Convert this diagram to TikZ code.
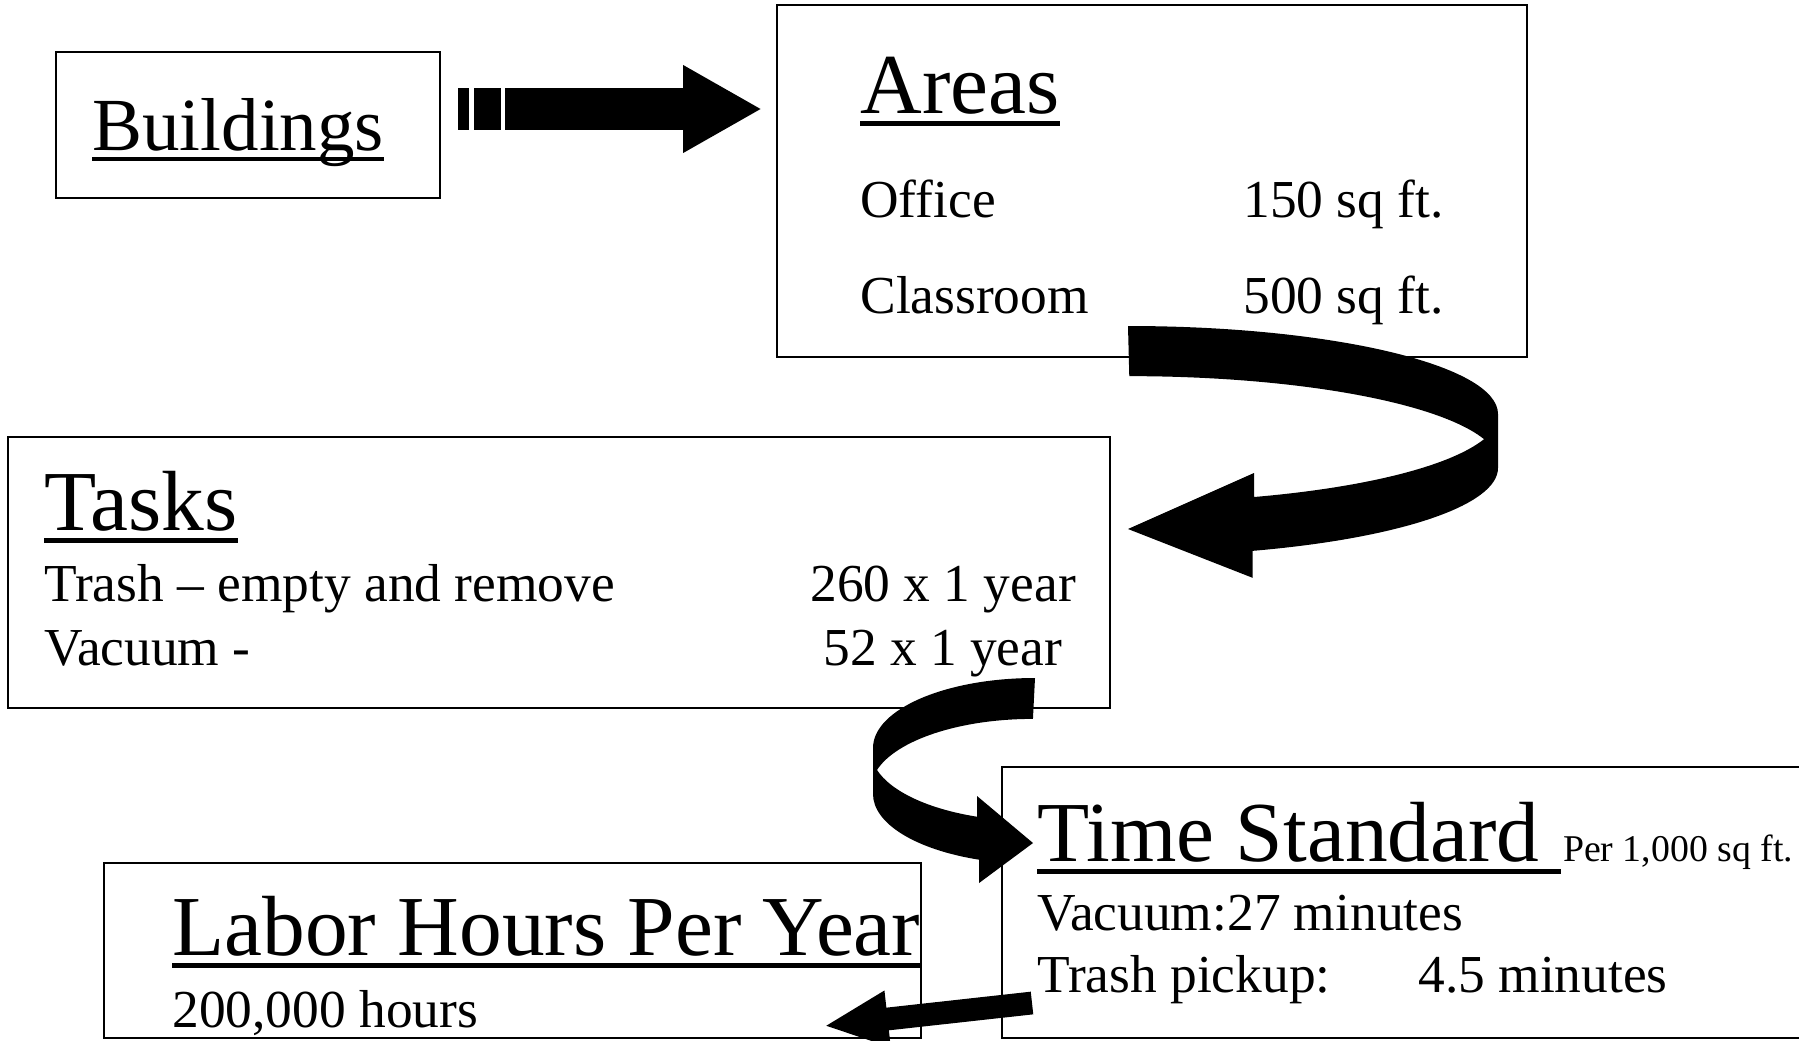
\documentclass[tikz,border=0pt]{standalone}
\usepackage{fontspec}
\setmainfont{Liberation Serif}
\usetikzlibrary{arrows.meta}

\newcommand{\ulhead}[1]{\setbox0=\hbox{#1}\rlap{\rule[-0.15em]{\wd0}{0.06em}}\box0}

\begin{document}
\begin{tikzpicture}[x=0.5pt,y=0.5pt,
  box/.style={draw,line width=1pt,inner sep=0pt},
  head/.style={anchor=base west,inner sep=0pt,font=\fontsize{42.7}{50}\selectfont},
  txt/.style={anchor=base west,inner sep=0pt,font=\fontsize{26.7}{31}\selectfont},
  note/.style={anchor=base west,inner sep=0pt,font=\fontsize{18.9}{22}\selectfont},
  striped/.style={line width=21pt,dash pattern=on 5.5pt off 2.5pt on 13.5pt off 2pt on 400pt off 0pt,
    -{Triangle[length=39.5pt 0 0,width=41pt 0 0]}},
  slim/.style={line width=11.4pt,-{Triangle[length=32pt 0 0,width=26pt 0 0]}}]

\path[use as bounding box,fill=white](0,0)rectangle(1799,-1040);
\clip(0,0)rectangle(1799,-1040);

\node[box,minimum width=192pt,minimum height=73pt](bld) at (248,-125){};
\node[box,minimum width=375pt,minimum height=176pt](areas) at (1152,-181){};
\node[box,minimum width=551pt,minimum height=135.5pt](tasks) at (559,-572.5){};
\node[box,minimum width=404pt,minimum height=135.5pt](tsd) at (1406,-902.5){};
\node[box,minimum width=408.5pt,minimum height=87.5pt](labor) at (512.5,-950.5){};

\node[head,font=\fontsize{37.5}{44}\selectfont](bldtitle) at (92,-150){\ulhead{Buildings}};

\node[head](areatitle) at (860,-113){\ulhead{Areas}};
\node[txt](office) at (860,-217){Office};
\node[txt](officesz) at (1243,-217){150 sq ft.};
\node[txt](classrm) at (860,-313){Classroom};
\node[txt](classsz) at (1243,-313){500 sq ft.};

\node[head](tasktitle) at (44,-530){\ulhead{Tasks}};
\node[txt](trash) at (44,-601){Trash -- empty and remove};
\node[txt](trashfreq) at (810,-601){260 x 1 year};
\node[txt](vacuum) at (44,-665){Vacuum -};
\node[txt](vacfreq) at (823,-665){52 x 1 year};

\node[head](tstitle) at (1037,-861){\ulhead{Time Standard\ }};
\node[note](tsunit) at ([xshift=0.7pt]tstitle.base east){Per 1,000 sq ft.};
\node[txt](tsvac) at (1037,-930){Vacuum:27 minutes};
\node[txt](tspick) at (1037,-992){Trash pickup:};
\node[txt](tsmin) at (1418,-992){4.5 minutes};

\node[head](labtitle) at (172,-955){\ulhead{Labor Hours Per Year}};
\node[txt](labhours) at (172,-1027){200,000 hours};

\draw[striped]([shift={(8.5pt,8pt)}]bld.east)--([shift={(-7pt,36pt)}]areas.west);

\fill([shift={(-12pt,16pt)}]areas.south)
  arc[start angle=90,end angle=0,x radius=185pt,y radius=44pt]
  --++(0,-27pt)
  arc[start angle=0,end angle=-70.3,x radius=185pt,y radius=44pt]
  --++(0,-13.5pt)
  --([shift={(8.5pt,21.75pt)}]tasks.east)
  --++(63pt,28pt)
  --++(0,-12pt)
  arc[start angle=-70.3,end angle=-16.5,x radius=185pt,y radius=44pt]
  arc[start angle=16.5,end angle=90,x radius=185pt,y radius=44pt]
  --cycle;

\fill([shift={(-38pt,15.5pt)}]tasks.south east)
  arc[start angle=90,end angle=180,x radius=81pt,y radius=35pt]
  --++(0,-23pt)
  arc[start angle=180,end angle=249.8,x radius=81pt,y radius=35pt]
  --++(0,-11.65pt)
  --([shift={(16pt,29.75pt)}]tsd.west)
  --++(-28pt,23.5pt)
  --++(0,-10.35pt)
  arc[start angle=249.8,end angle=195.7,x radius=81pt,y radius=35pt]
  arc[start angle=164.3,end angle=90,x radius=81pt,y radius=35pt]
  --cycle;

\draw[slim]([shift={(15.5pt,-50.25pt)}]tsd.west)--([shift={(-49pt,-37.75pt)}]labor.east);

\end{tikzpicture}
\end{document}
